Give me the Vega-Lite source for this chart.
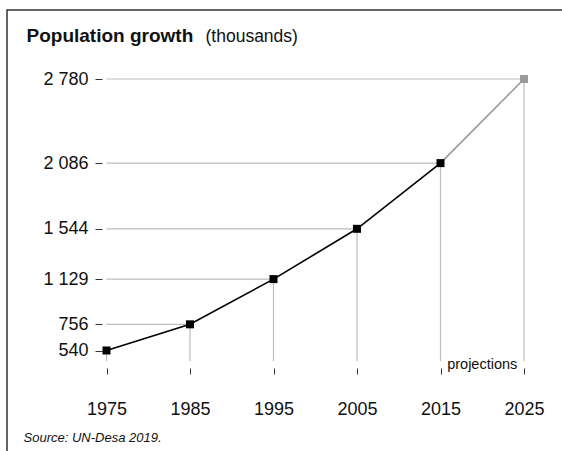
{
  "$schema": "https://vega.github.io/schema/vega-lite/v6.json",
  "width": 561,
  "height": 447,
  "padding": {"left": 7, "top": 10, "right": -6, "bottom": -6},
  "autosize": {"type": "none"},
  "background": "white",
  "config": {
    "font": "Liberation Sans",
    "view": {"stroke": "#333333", "strokeWidth": 1.5}
  },
  "resolve": {"axis": {"y": "independent"}},
  "datasets": {
    "pop": [
      {"year": 1975, "pop": 540, "status": "estimate"},
      {"year": 1985, "pop": 756, "status": "estimate"},
      {"year": 1995, "pop": 1129, "status": "estimate"},
      {"year": 2005, "pop": 1544, "status": "estimate"},
      {"year": 2015, "pop": 2086, "status": "estimate"},
      {"year": 2025, "pop": 2780, "status": "projection"}
    ],
    "notes": [{"year": 2020, "level": 420, "label": "projections"}]
  },
  "layer": [
    {
      "data": {"name": "pop"},
      "mark": {"type": "rule", "color": "#bdbdbd", "strokeWidth": 1.2},
      "encoding": {
        "x": {
          "field": "year",
          "type": "quantitative",
          "scale": {"domain": [1975, 2025], "range": [99.5, 517], "nice": false, "zero": false},
          "axis": {
            "values": [1975, 1985, 1995, 2005, 2015, 2025],
            "format": "d",
            "domain": false,
            "grid": false,
            "offset": -89,
            "tickSize": 6,
            "tickColor": "#333333",
            "labelFontSize": 18,
            "labelColor": "#111111",
            "labelPadding": 26,
            "labelFlush": false,
            "labelOverlap": false,
            "title": "Source: UN-Desa 2019.",
            "titleFontSize": 13,
            "titleFontStyle": "italic",
            "titleFontWeight": "normal",
            "titleColor": "#111111",
            "titleAlign": "left",
            "titleBaseline": "alphabetic",
            "titleAngle": 0,
            "titleX": 16,
            "titleY": 73
          }
        },
        "y": {
          "field": "pop",
          "type": "quantitative",
          "scale": {"domain": [540, 2780], "range": [340.5, 69], "nice": false, "zero": false},
          "axis": {
            "orient": "left",
            "values": [540, 756, 1129, 1544, 2086, 2780],
            "labelExpr": "replace(format(datum.value, ','), ',', ' ')",
            "domain": false,
            "grid": false,
            "offset": -95,
            "tickSize": 7,
            "tickColor": "#333333",
            "labelFontSize": 18,
            "labelColor": "#111111",
            "labelPadding": 7,
            "labelOverlap": false,
            "title": "Population growth",
            "titleFontSize": 19,
            "titleFontWeight": "bold",
            "titleColor": "#111111",
            "titleAngle": 0,
            "titleAlign": "left",
            "titleBaseline": "alphabetic",
            "titleX": -76,
            "titleY": 31
          }
        },
        "y2": {"datum": 453}
      }
    },
    {
      "data": {"name": "pop"},
      "mark": {"type": "rule", "color": "#bdbdbd", "strokeWidth": 1.2},
      "encoding": {
        "x": {"field": "year", "type": "quantitative", "axis": {"title": "Source: UN-Desa 2019."}},
        "x2": {"datum": 1975},
        "y": {"field": "pop", "type": "quantitative", "axis": null}
      }
    },
    {
      "data": {"name": "pop"},
      "transform": [{"filter": "datum.year <= 2015"}],
      "mark": {"type": "line", "color": "#000000", "strokeWidth": 1.6},
      "encoding": {
        "x": {"field": "year", "type": "quantitative"},
        "y": {"field": "pop", "type": "quantitative", "axis": null}
      }
    },
    {
      "data": {"name": "pop"},
      "transform": [{"filter": "datum.year >= 2015"}],
      "mark": {"type": "line", "color": "#9a9a9a", "strokeWidth": 1.6},
      "encoding": {
        "x": {"field": "year", "type": "quantitative"},
        "y": {"field": "pop", "type": "quantitative", "axis": null}
      }
    },
    {
      "data": {"name": "pop"},
      "mark": {"type": "point", "shape": "square", "filled": true, "size": 64, "opacity": 1},
      "encoding": {
        "x": {"field": "year", "type": "quantitative"},
        "y": {"field": "pop", "type": "quantitative", "axis": null},
        "color": {
          "field": "status",
          "type": "nominal",
          "scale": {"domain": ["estimate", "projection"], "range": ["#000000", "#9a9a9a"]},
          "legend": null
        }
      }
    },
    {
      "data": {"name": "notes"},
      "mark": {"type": "text", "fontSize": 14.5, "color": "#111111", "baseline": "middle", "align": "center"},
      "encoding": {
        "x": {"field": "year", "type": "quantitative"},
        "y": {
          "field": "level",
          "type": "quantitative",
          "axis": {
            "orient": "left",
            "offset": -95,
            "labels": false,
            "ticks": false,
            "domain": false,
            "grid": false,
            "title": "(thousands)",
            "titleFontSize": 17.5,
            "titleFontWeight": "normal",
            "titleColor": "#111111",
            "titleAngle": 0,
            "titleAlign": "left",
            "titleBaseline": "alphabetic",
            "titleX": 103,
            "titleY": 31
          }
        },
        "text": {"field": "label"}
      }
    }
  ]
}
